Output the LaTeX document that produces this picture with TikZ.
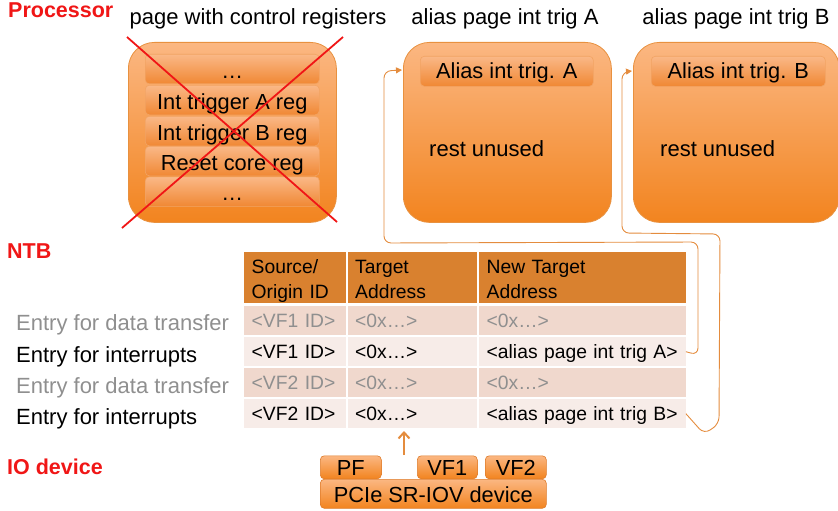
\documentclass[tikz,border=0pt]{standalone}
\usepackage{fontspec}
\setmainfont{Liberation Sans}
\usetikzlibrary{arrows.meta}
\definecolor{boxtop}{HTML}{FBB782}
\definecolor{boxbot}{HTML}{F2841F}
\definecolor{boxedge}{HTML}{E8913F}
\definecolor{bartop}{HTML}{FAB887}
\definecolor{barbot}{HTML}{F08834}
\definecolor{baredge}{HTML}{F2A464}
\definecolor{devedge}{HTML}{DE7C2C}
\definecolor{headfill}{HTML}{D9812F}
\definecolor{datafill}{HTML}{F0D8CD}
\definecolor{intfill}{HTML}{F7ECE8}
\definecolor{greytext}{HTML}{8F8F8F}
\definecolor{hotred}{HTML}{F01616}
\definecolor{linkorange}{HTML}{E48C3E}
\tikzset{page/.style={draw=boxedge,line width=.8pt,rounded corners=26pt,top color=boxtop,bottom color=boxbot,inner sep=0pt,anchor=north west,minimum width=208pt,minimum height=180pt},
reg/.style={draw=baredge,line width=.6pt,rounded corners=4pt,top color=bartop,bottom color=barbot,inner sep=0pt,anchor=north west,minimum width=174pt,minimum height=29.5pt,text height=19.5pt,text depth=1pt,font=\fontsize{21.8}{24}\selectfont},
dev/.style={reg,draw=devedge,top color=boxtop,bottom color=boxbot,text height=18pt,text depth=1.5pt},
cell/.style={anchor=north west,inner xsep=7.5pt,inner ysep=0pt,minimum height=29pt,align=left,text height=15pt,text depth=1pt,font=\fontsize{19.3}{25}\selectfont},
head/.style={cell,fill=headfill,minimum height=51pt,text height=21.6pt,text depth=29.4pt},
label/.style={inner sep=0pt,font=\fontsize{22}{24}\selectfont},
part/.style={label,anchor=base west,text=hotred,font=\fontsize{21.5}{24}\selectfont\bfseries},
link/.style={draw=linkorange,line width=.9pt,rounded corners=7pt,-{Triangle[length=6pt,width=6pt]}},
trig/.style={draw=linkorange,line width=2pt,-{Straight Barb[length=6pt,width=11pt]}}}

\begin{document}
\begin{tikzpicture}[x=1pt,y=-1pt]
\path[use as bounding box] (0,0) rectangle (838,511);
\node[part] (proc) at (8,18) {Processor};
\node[part] (ntb) at (7,258) {NTB};
\node[part] (iodev) at (7,474) {IO device};
\node[label,anchor=base] (ctrltitle) at (258,25) {page with control registers};
\node[label,anchor=base] (alAtitle) at (505,25) {alias page int trig A};
\node[label,anchor=base] (alBtitle) at (736,25) {alias page int trig B};
% pages
\node[page] (ctrl) at (128,42) {};
\node[reg] (ctrl0) at (145,54) {…};
\node[reg] (ctrl1) at (145,85) {Int trigger A reg};
\node[reg] (ctrl2) at (145,116) {Int trigger B reg};
\node[reg] (ctrl3) at (145,146) {Reset core reg};
\node[reg] (ctrl4) at (145,176.5) {…};
\draw[hotred,line width=1.8pt] (127,37) -- (337,222);
\draw[hotred,line width=1.8pt] (343,37) -- (122,228);
\node[page] (alA) at (403,42) {};
\node[reg,minimum width=173pt,minimum height=30pt,text height=17pt,text depth=2pt] (alAreg) at (420,56) {Alias int trig. A};
\node[label,anchor=base west] (alArest) at (429,156) {rest unused};
\node[page,minimum width=206pt] (alB) at (633,42) {};
\node[reg,minimum width=174pt,minimum height=30pt,text height=17pt,text depth=2pt] (alBreg) at (651,56) {Alias int trig. B};
\node[label,anchor=base west] (alBrest) at (660,156) {rest unused};
% table
\node[head,text width=87pt] (hsrc) at (244,251.7) {Source/\\Origin ID};
\node[head,text width=114.5pt] (htgt) at (347.5,251.7) {Target\\Address};
\node[head,text width=191.5pt] (hnew) at (479,251.7) {New Target\\Address};
\node[cell,fill=datafill,text=greytext,text width=87pt] (r1src) at (244,306) {<VF1 ID>};
\node[cell,fill=datafill,text=greytext,text width=114.5pt] (r1tgt) at (347.5,306) {<0x…>};
\node[cell,fill=datafill,text=greytext,text width=191.5pt] (r1new) at (479,306) {<0x…>};
\node[cell,fill=intfill,text width=87pt] (r2src) at (244,337) {<VF1 ID>};
\node[cell,fill=intfill,text width=114.5pt] (r2tgt) at (347.5,337) {<0x…>};
\node[cell,fill=intfill,text width=191.5pt] (r2new) at (479,337) {\mbox{<alias page int trig A>}};
\node[cell,fill=datafill,text=greytext,text width=87pt] (r3src) at (244,368) {<VF2 ID>};
\node[cell,fill=datafill,text=greytext,text width=114.5pt] (r3tgt) at (347.5,368) {<0x…>};
\node[cell,fill=datafill,text=greytext,text width=191.5pt] (r3new) at (479,368) {<0x…>};
\node[cell,fill=intfill,text width=87pt] (r4src) at (244,399) {<VF2 ID>};
\node[cell,fill=intfill,text width=114.5pt] (r4tgt) at (347.5,399) {<0x…>};
\node[cell,fill=intfill,text width=191.5pt] (r4new) at (479,399) {\mbox{<alias page int trig B>}};
\node[label,anchor=base west,text=greytext] (lbl1) at (16,330) {Entry for data transfer};
\node[label,anchor=base west] (lbl2) at (16,362.5) {Entry for interrupts};
\node[label,anchor=base west,text=greytext] (lbl3) at (16,393) {Entry for data transfer};
\node[label,anchor=base west] (lbl4) at (16,424) {Entry for interrupts};
% device
\node[dev,minimum width=61pt,minimum height=23pt] (pf) at (320,455.5) {PF};
\node[dev,minimum width=60pt,minimum height=23pt] (vf1) at (417,455.5) {VF1};
\node[dev,minimum width=61pt,minimum height=23pt] (vf2) at (485,455.5) {VF2};
\node[dev,minimum width=226pt,minimum height=29pt] (pcie) at (320,479) {PCIe SR-IOV device};
\coordinate (trigsrc) at (404,455);
\coordinate (trigend) at (404,431);
\draw[trig] (trigsrc) -- (trigend);
% remap links
\coordinate (alAin) at (402,70);
\coordinate (alBin) at (632,71);
\draw[link] (r2new.east) -- (698,355) -- (698,242) -- (384,243) -- (384,71) -- (alAin);
\draw[link] (r4new.east) -- (704,434) -- (719,424) -- (720,234) -- (622,233) -- (622,72) -- (alBin);
\end{tikzpicture}
\end{document}
